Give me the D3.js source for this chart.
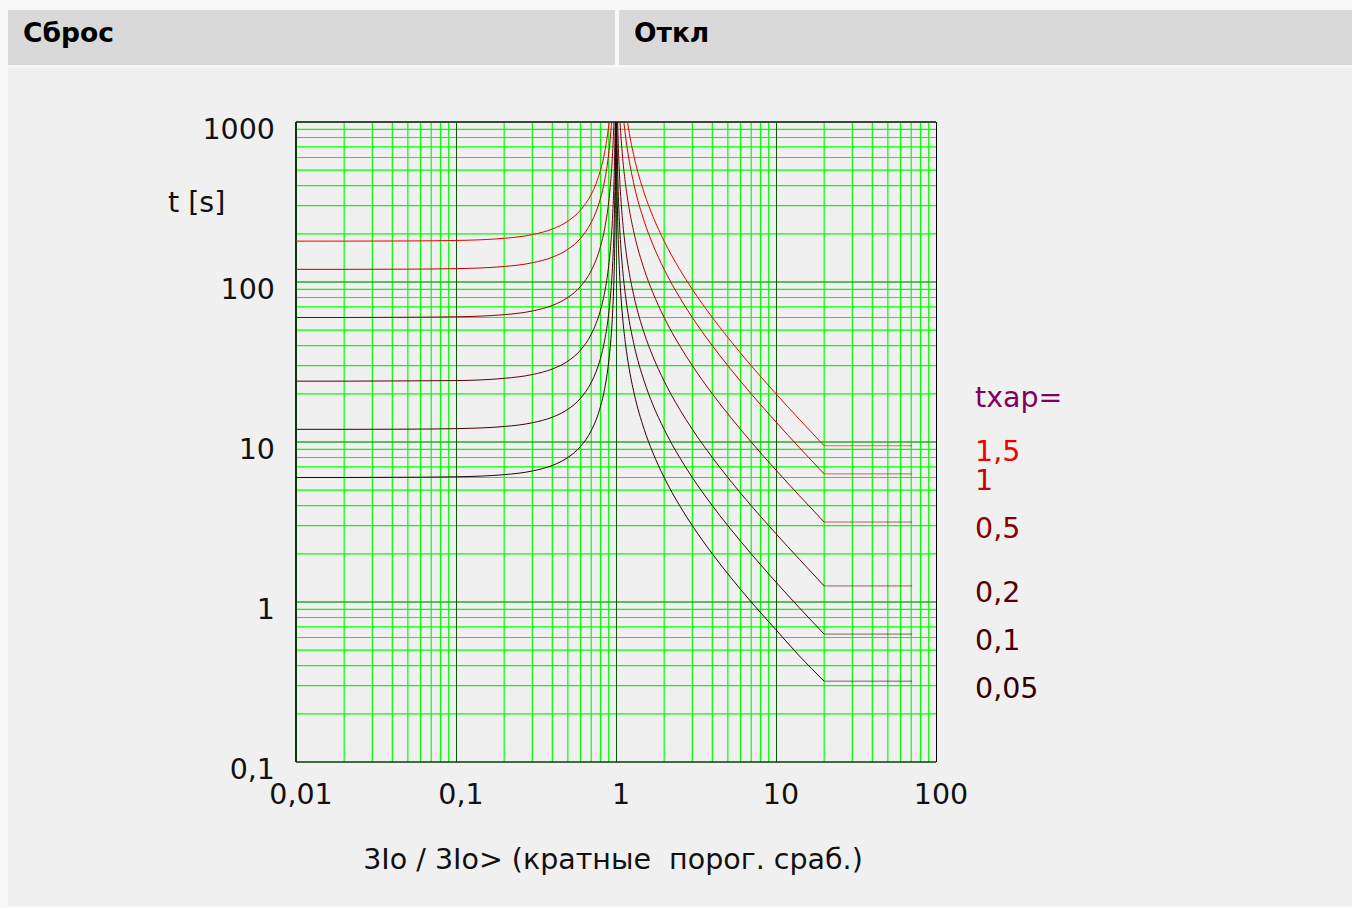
<!DOCTYPE html>
<html>
<head>
<meta charset="utf-8">
<script src="https://cdn.jsdelivr.net/npm/d3@7"></script>
<style>
  html, body { margin: 0; padding: 0; background: #f8f8f8; }
  svg { display: block; }
  text { font-family: "DejaVu Sans", sans-serif; }
</style>
</head>
<body>
<svg id="chart" width="1352" height="908"></svg>
<script>
// ---- data ----
const headers = ["Сброс", "Откл"];
const xTicks = [0.01, 0.1, 1, 10, 100];
const xTickLabels = ["0,01", "0,1", "1", "10", "100"];
const yTicks = [0.1, 1, 10, 100, 1000];
const yTickLabels = ["0,1", "1", "10", "100", "1000"];
const seriesNames = ["1,5", "1", "0,5", "0,2", "0,1", "0,05"];
const seriesColors = ["#ee0000", "#c80000", "#8a0000", "#5a0008", "#420004", "#2a0002"];
const labelColors = ["#ee0000", "#cc0000", "#8a0000", "#580000", "#420000", "#300000"];

// reset branch (3Io/3Io> < 1)
const resetM = [0.01, 0.02, 0.05, 0.1, 0.2, 0.3, 0.4, 0.5, 0.6, 0.7, 0.75, 0.8, 0.85, 0.9, 0.92, 0.93, 0.95, 0.97, 0.98, 0.99, 0.995, 0.998];
const reset_1_5 = [180, 180.1, 180.5, 181.8, 187.5, 197.8, 214.3, 240, 281.3, 352.9, 411.4, 500, 648.6, 947.4, 1172, 1332, 1846, 3046, 4545, 9045, 18045, 45045];
const reset_1   = [120, 120, 120.3, 121.2, 125, 131.9, 142.9, 160, 187.5, 235.3, 274.3, 333.3, 432.4, 631.6, 781.3, 888, 1231, 2030, 3030, 6030, 12030, 30030];
const reset_0_5 = [60, 60, 60.2, 60.6, 62.5, 65.9, 71.4, 80, 93.8, 117.6, 137.1, 166.7, 216.2, 315.8, 390.6, 444, 615, 1015, 1515, 3015, 6015, 15015];
const reset_0_2 = [24, 24, 24.1, 24.2, 25, 26.4, 28.6, 32, 37.5, 47.1, 54.9, 66.7, 86.5, 126.3, 156.3, 177.6, 246, 406, 606, 1206, 2406, 6006];
const reset_0_1 = [12, 12, 12.03, 12.12, 12.5, 13.19, 14.29, 16, 18.75, 23.53, 27.43, 33.33, 43.24, 63.16, 78.1, 88.8, 123.1, 203, 303, 603, 1203, 3003];
const reset_0_05 = [6, 6, 6.02, 6.06, 6.25, 6.59, 7.14, 8, 9.38, 11.76, 13.71, 16.67, 21.62, 31.58, 39.1, 44.4, 61.5, 101.5, 151.5, 301.5, 601.5, 1501.5];

// trip branch (3Io/3Io> > 1)
const tripM = [1.002, 1.005, 1.01, 1.02, 1.03, 1.05, 1.07, 1.1, 1.15, 1.2, 1.3, 1.5, 1.7, 2, 2.5, 3, 4, 5, 7, 10, 14, 20];
const trip_1_5 = [90000, 36000, 18000, 9000, 6000, 3600, 2571, 1800, 1200, 900, 600, 360, 257.1, 180, 120, 90, 60, 45, 30, 20, 13.85, 9.47];
const trip_1   = [60000, 24000, 12000, 6000, 4000, 2400, 1714, 1200, 800, 600, 400, 240, 171.4, 120, 80, 60, 40, 30, 20, 13.33, 9.23, 6.32];
const trip_0_5 = [30000, 12000, 6000, 3000, 2000, 1200, 857, 600, 400, 300, 200, 120, 85.7, 60, 40, 30, 20, 15, 10, 6.67, 4.62, 3.16];
const trip_0_2 = [12000, 4800, 2400, 1200, 800, 480, 343, 240, 160, 120, 80, 48, 34.3, 24, 16, 12, 8, 6, 4, 2.67, 1.85, 1.26];
const trip_0_1 = [6000, 2400, 1200, 600, 400, 240, 171, 120, 80, 60, 40, 24, 17.1, 12, 8, 6, 4, 3, 2, 1.33, 0.92, 0.63];
const trip_0_05 = [3000, 1200, 600, 300, 200, 120, 85.7, 60, 40, 30, 20, 12, 8.57, 6, 4, 3, 2, 1.5, 1, 0.67, 0.46, 0.32];

// definite-time plateau end (multiple)
const plateauEndM = 71;

const resetSeries = [reset_1_5, reset_1, reset_0_5, reset_0_2, reset_0_1, reset_0_05];
const tripSeries = [trip_1_5, trip_1, trip_0_5, trip_0_2, trip_0_1, trip_0_05];

// ---- layout ----
const svg = d3.select("#chart");
const W = 1352, H = 908;
const plot = { left: 296, right: 936, top: 122, bottom: 762 };
const FS = 28.5;

// backgrounds
svg.append("rect").attr("x", 8).attr("y", 68).attr("width", W - 8).attr("height", 838).attr("fill", "#f0f0f0");
svg.append("rect").attr("x", 8).attr("y", 10).attr("width", 607).attr("height", 55).attr("fill", "#d9d9d9");
svg.append("rect").attr("x", 619).attr("y", 10).attr("width", W - 619).attr("height", 55).attr("fill", "#d9d9d9");
svg.append("text").attr("x", 23).attr("y", 42).attr("font-size", 26.5).attr("font-weight", "bold").attr("fill", "#000").text(headers[0]);
svg.append("text").attr("x", 634).attr("y", 42).attr("font-size", 26.5).attr("font-weight", "bold").attr("fill", "#000").text(headers[1]);

const x = d3.scaleLog().domain([0.01, 100]).range([plot.left, plot.right]);
const y = d3.scaleLog().domain([0.1, 1000]).range([plot.bottom, plot.top]);

// grid
const g = svg.append("g");
const minorX = [], minorY = [];
[0.01, 0.1, 1, 10].forEach(d => { for (let k = 2; k <= 9; k++) minorX.push(d * k); });
[0.1, 1, 10, 100].forEach(d => { for (let k = 2; k <= 9; k++) minorY.push(d * k); });

g.selectAll(".mx").data(minorX).enter().append("line")
  .attr("x1", d => x(d)).attr("x2", d => x(d))
  .attr("y1", plot.top).attr("y2", plot.bottom)
  .attr("stroke", "#00ff00").attr("stroke-width", 1.2);
g.selectAll(".my").data(minorY).enter().append("line")
  .attr("y1", d => y(d)).attr("y2", d => y(d))
  .attr("x1", plot.left).attr("x2", plot.right)
  .attr("stroke", "#00ff00").attr("stroke-width", 1.2);
g.selectAll(".My").data(yTicks.slice(1, 4)).enter().append("line")
  .attr("y1", d => y(d)).attr("y2", d => y(d))
  .attr("x1", plot.left).attr("x2", plot.right)
  .attr("stroke", "#2ea82e").attr("stroke-width", 1.6);
g.selectAll(".Mx").data(xTicks.slice(1, 4)).enter().append("line")
  .attr("x1", d => Math.round(x(d)) + 0.5).attr("x2", d => Math.round(x(d)) + 0.5)
  .attr("y1", plot.top).attr("y2", plot.bottom)
  .attr("stroke", "#0b5a0b").attr("stroke-width", 1);

// frame
g.append("line").attr("x1", plot.left).attr("x2", plot.right).attr("y1", plot.top).attr("y2", plot.top).attr("stroke", "#2f4f2f").attr("stroke-width", 2);
g.append("line").attr("x1", plot.left).attr("x2", plot.right).attr("y1", plot.bottom).attr("y2", plot.bottom).attr("stroke", "#0a3a0a").attr("stroke-width", 1.5);
g.append("line").attr("x1", plot.left).attr("x2", plot.left).attr("y1", plot.top).attr("y2", plot.bottom).attr("stroke", "#0a3a0a").attr("stroke-width", 2);
g.append("line").attr("x1", plot.right + 0.5).attr("x2", plot.right + 0.5).attr("y1", plot.top).attr("y2", plot.bottom).attr("stroke", "#000").attr("stroke-width", 1);

// clip
svg.append("clipPath").attr("id", "clip").append("rect")
  .attr("x", plot.left).attr("y", plot.top).attr("width", plot.right - plot.left).attr("height", plot.bottom - plot.top);

const line = d3.line().x(d => x(d[0])).y(d => y(d[1])).curve(d3.curveMonotoneX);
const curves = svg.append("g").attr("clip-path", "url(#clip)");
seriesNames.forEach((name, i) => {
  const rPts = resetM.map((m, j) => [m, resetSeries[i][j]]);
  const tPts = tripM.map((m, j) => [m, tripSeries[i][j]]);
  curves.append("path").attr("d", line(rPts)).attr("fill", "none").attr("stroke", seriesColors[i]).attr("stroke-width", 1);
  curves.append("path").attr("d", line(tPts)).attr("fill", "none").attr("stroke", seriesColors[i]).attr("stroke-width", 1);
  const last = tPts[tPts.length - 1];
  curves.append("path").attr("d", d3.line().x(d => x(d[0])).y(d => y(d[1]))([last, [plateauEndM, last[1]]]))
    .attr("fill", "none").attr("stroke", seriesColors[i]).attr("stroke-width", 1).attr("stroke-opacity", 0.6);
});

// tick labels
svg.selectAll(".yl").data(yTicks).enter().append("text")
  .attr("x", 275).attr("y", d => y(d) + 16.5).attr("text-anchor", "end")
  .attr("font-size", FS).attr("fill", "#111").text((d, i) => yTickLabels[i]);
svg.selectAll(".xl").data(xTicks).enter().append("text")
  .attr("x", d => x(d) + 5).attr("y", 804).attr("text-anchor", "middle")
  .attr("font-size", FS).attr("fill", "#111").text((d, i) => xTickLabels[i]);

// axis titles
svg.append("text").attr("x", 168).attr("y", 212).attr("font-size", FS).attr("fill", "#111").text("t [s]");
svg.append("text").attr("x", 613).attr("y", 869).attr("text-anchor", "middle").attr("font-size", FS)
  .attr("fill", "#111").style("white-space", "pre").attr("xml:space", "preserve").text("3Io / 3Io> (кратные  порог. сраб.)");

// legend
const legendY = [461, 490, 538, 602, 650, 698];
svg.append("text").attr("x", 975).attr("y", 407).attr("font-size", FS).attr("fill", "#800060").text("txap=");
svg.selectAll(".lg").data(seriesNames).enter().append("text")
  .attr("x", 975).attr("y", (d, i) => legendY[i]).attr("font-size", FS)
  .attr("fill", (d, i) => labelColors[i]).text(d => d);
</script>
</body>
</html>
